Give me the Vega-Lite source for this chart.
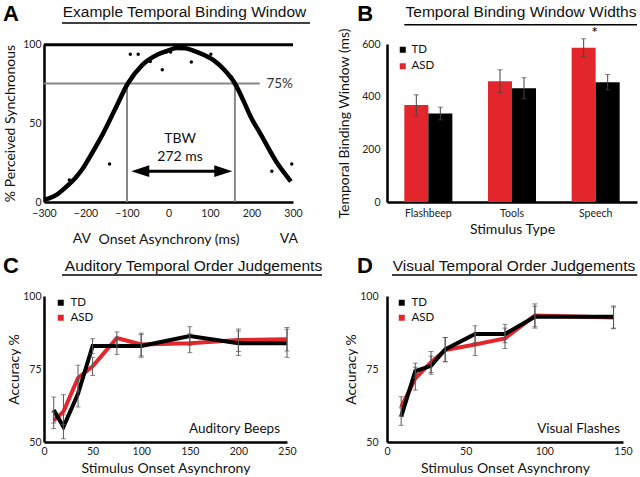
{
  "$schema": "https://vega.github.io/schema/vega-lite/v6.json",
  "padding": {"left": 2, "top": 2, "right": 0, "bottom": 0},
  "background": "white",
  "columns": 2,
  "spacing": {"row": 94, "column": 94},
  "bounds": "flush",
  "resolve": {"scale": {"color": "independent"}, "legend": {"color": "independent"}},
  "datasets": {
    "curve": [
      {"x": -300, "y": 1.5}, {"x": -290, "y": 2.2}, {"x": -270, "y": 4.5}, {"x": -247, "y": 9.5}, {"x": -225, "y": 15},
      {"x": -207, "y": 21}, {"x": -187, "y": 29.7}, {"x": -163, "y": 40.7}, {"x": -130, "y": 58}, {"x": -98, "y": 75},
      {"x": -64, "y": 86.5}, {"x": -25, "y": 93.5}, {"x": 0, "y": 96}, {"x": 20, "y": 97.5}, {"x": 40, "y": 97.3},
      {"x": 63, "y": 95.5}, {"x": 90, "y": 92.5}, {"x": 110, "y": 89.5}, {"x": 135, "y": 83.5}, {"x": 160, "y": 75},
      {"x": 180, "y": 64.5}, {"x": 198, "y": 54}, {"x": 222, "y": 43}, {"x": 261, "y": 25}, {"x": 289, "y": 15}, {"x": 295, "y": 13}
    ],
    "pts": [
      {"x": -239, "y": 14}, {"x": -190, "y": 29}, {"x": -142, "y": 24}, {"x": -92, "y": 93.5}, {"x": -73, "y": 93.5},
      {"x": -44, "y": 89}, {"x": -15, "y": 83.7}, {"x": -5, "y": 95}, {"x": 5, "y": 95}, {"x": 14, "y": 99}, {"x": 24, "y": 99},
      {"x": 55, "y": 88.6}, {"x": 102, "y": 93.5}, {"x": 152, "y": 79}, {"x": 199, "y": 54}, {"x": 249, "y": 19.5}, {"x": 297, "y": 24}
    ],
    "tbw": [{"bound": -100}, {"bound": 160}],
    "bars": [
      {"stimulus": "Flashbeep", "group": "ASD", "tbw": 368, "lo": 328, "hi": 407},
      {"stimulus": "Flashbeep", "group": "TD", "tbw": 336, "lo": 312, "hi": 360},
      {"stimulus": "Tools", "group": "ASD", "tbw": 459, "lo": 416, "hi": 502},
      {"stimulus": "Tools", "group": "TD", "tbw": 432, "lo": 392, "hi": 472},
      {"stimulus": "Speech", "group": "ASD", "tbw": 586, "lo": 552, "hi": 620},
      {"stimulus": "Speech", "group": "TD", "tbw": 455, "lo": 426, "hi": 484}
    ],
    "aud": [
      {"soa": 10, "group": "ASD", "acc": 57.4, "lo": 54.6, "hi": 60.2},
      {"soa": 20, "group": "ASD", "acc": 60.4, "lo": 56, "hi": 66.2},
      {"soa": 35, "group": "ASD", "acc": 71.9, "lo": 67.5, "hi": 76.3},
      {"soa": 50, "group": "ASD", "acc": 75.9, "lo": 72.8, "hi": 79},
      {"soa": 75, "group": "ASD", "acc": 85.6, "lo": 83.5, "hi": 87.7},
      {"soa": 100, "group": "ASD", "acc": 83.4, "lo": 79.5, "hi": 87.3},
      {"soa": 150, "group": "ASD", "acc": 83.8, "lo": 80.6, "hi": 87},
      {"soa": 200, "group": "ASD", "acc": 84.9, "lo": 81, "hi": 88.7},
      {"soa": 250, "group": "ASD", "acc": 85.2, "lo": 81.2, "hi": 89.2},
      {"soa": 10, "group": "TD", "acc": 61, "lo": 56.5, "hi": 65.4},
      {"soa": 20, "group": "TD", "acc": 55.2, "lo": 51.1, "hi": 59.3},
      {"soa": 35, "group": "TD", "acc": 66.5, "lo": 62, "hi": 71},
      {"soa": 50, "group": "TD", "acc": 82.9, "lo": 80.2, "hi": 85.4},
      {"soa": 75, "group": "TD", "acc": 82.9, "lo": 80, "hi": 85.6},
      {"soa": 100, "group": "TD", "acc": 82.9, "lo": 79, "hi": 86.8},
      {"soa": 150, "group": "TD", "acc": 86.3, "lo": 83.1, "hi": 89.5},
      {"soa": 200, "group": "TD", "acc": 83.8, "lo": 79.6, "hi": 88},
      {"soa": 250, "group": "TD", "acc": 83.8, "lo": 79, "hi": 88.6}
    ],
    "vis": [
      {"soa": 9, "group": "ASD", "acc": 61.9, "lo": 58.8, "hi": 65.5},
      {"soa": 18, "group": "ASD", "acc": 71.8, "lo": 67.8, "hi": 75.6},
      {"soa": 28, "group": "ASD", "acc": 77.3, "lo": 73.8, "hi": 81},
      {"soa": 37, "group": "ASD", "acc": 81.5, "lo": 77.5, "hi": 85.8},
      {"soa": 56, "group": "ASD", "acc": 83.4, "lo": 79.6, "hi": 87.2},
      {"soa": 75, "group": "ASD", "acc": 85.5, "lo": 82, "hi": 89},
      {"soa": 94, "group": "ASD", "acc": 93.3, "lo": 89.5, "hi": 96.5},
      {"soa": 144, "group": "ASD", "acc": 92.6, "lo": 88.8, "hi": 96.2},
      {"soa": 9, "group": "TD", "acc": 58.7, "lo": 55.7, "hi": 61.7},
      {"soa": 18, "group": "TD", "acc": 74.3, "lo": 72, "hi": 77},
      {"soa": 28, "group": "TD", "acc": 76.1, "lo": 73.2, "hi": 79.4},
      {"soa": 37, "group": "TD", "acc": 81.7, "lo": 77.5, "hi": 85.8},
      {"soa": 56, "group": "TD", "acc": 87, "lo": 84, "hi": 89.8},
      {"soa": 75, "group": "TD", "acc": 87, "lo": 84, "hi": 90.3},
      {"soa": 94, "group": "TD", "acc": 92.9, "lo": 89, "hi": 97.3},
      {"soa": 144, "group": "TD", "acc": 92.9, "lo": 89, "hi": 96.6}
    ]
  },
  "concat": [
    {
      "width": 249, "height": 158,
      "title": {"text": "Example Temporal Binding Window", "dx": 16, "offset": -17.5},
      "layer": [
        {
          "data": {"name": "tbw"},
          "mark": {"type": "rule", "color": "#878787", "strokeWidth": 2},
          "encoding": {
            "x": {"field": "bound", "type": "quantitative", "scale": {"domain": [-300, 300], "nice": false},
              "axis": {"values": [-300, -200, -100, 0, 100, 200, 300], "title": "Onset Asynchrony (ms)", "labelPadding": 6, "titlePadding": 14}},
            "y": {"datum": 0, "type": "quantitative", "scale": {"domain": [0, 100], "nice": false},
              "axis": {"values": [0, 25, 50, 75, 100], "title": "% Perceived Synchronous", "labelPadding": 3, "titlePadding": 5}},
            "y2": {"datum": 75}
          }
        },
        {
          "data": {"values": [{}]},
          "mark": {"type": "rule", "color": "#878787", "strokeWidth": 2},
          "encoding": {"x": {"datum": -300}, "x2": {"datum": 220}, "y": {"datum": 75}}
        },
        {
          "data": {"values": [{}]},
          "mark": {"type": "rule", "color": "#000", "strokeWidth": 3},
          "encoding": {"x": {"datum": -300}, "x2": {"datum": 300}, "y": {"datum": 99.5}}
        },
        {
          "data": {"name": "curve"},
          "mark": {"type": "line", "color": "#000", "strokeWidth": 4.5, "interpolate": "monotone"},
          "encoding": {"x": {"field": "x", "type": "quantitative"}, "y": {"field": "y", "type": "quantitative"}}
        },
        {
          "data": {"name": "pts"},
          "mark": {"type": "circle", "color": "#000", "size": 12, "opacity": 1},
          "encoding": {"x": {"field": "x", "type": "quantitative"}, "y": {"field": "y", "type": "quantitative"}}
        },
        {
          "data": {"values": [{}]},
          "mark": {"type": "rule", "color": "#000", "strokeWidth": 3},
          "encoding": {"x": {"datum": -75}, "x2": {"datum": 140}, "y": {"datum": 19.5}}
        },
        {
          "data": {"values": [{}]},
          "mark": {"type": "point", "shape": "M-1,0L1,-0.65L1,0.65Z", "filled": true, "color": "#000", "size": 324, "opacity": 1},
          "encoding": {"x": {"datum": -68}, "y": {"datum": 19.5}}
        },
        {
          "data": {"values": [{}]},
          "mark": {"type": "point", "shape": "M1,0L-1,-0.65L-1,0.65Z", "filled": true, "color": "#000", "size": 324, "opacity": 1},
          "encoding": {"x": {"datum": 132}, "y": {"datum": 19.5}}
        },
        {
          "data": {"values": [{}]},
          "mark": {"type": "text", "text": "TBW", "fontSize": 14, "font": "Lato", "color": "#111", "baseline": "middle"},
          "encoding": {"x": {"datum": 28}, "y": {"datum": 40}}
        },
        {
          "data": {"values": [{}]},
          "mark": {"type": "text", "text": "272 ms", "fontSize": 14, "font": "Lato", "color": "#111", "baseline": "middle"},
          "encoding": {"x": {"datum": 28}, "y": {"datum": 28.5}}
        },
        {
          "data": {"values": [{}]},
          "mark": {"type": "text", "text": "75%", "fontSize": 13.5, "font": "Lato", "color": "#333", "baseline": "middle", "align": "left"},
          "encoding": {"x": {"datum": 236}, "y": {"datum": 75}}
        },
        {
          "data": {"values": [{}]},
          "mark": {"type": "text", "text": "AV", "fontSize": 14, "font": "Lato", "color": "#111", "baseline": "middle"},
          "encoding": {"x": {"datum": -209}, "y": {"datum": -23.4}}
        },
        {
          "data": {"values": [{}]},
          "mark": {"type": "text", "text": "VA", "fontSize": 14, "font": "Lato", "color": "#111", "baseline": "middle"},
          "encoding": {"x": {"datum": 290}, "y": {"datum": -23.4}}
        },
        {
          "data": {"values": [{}]},
          "mark": {"type": "text", "text": "A", "fontSize": 22, "font": "Liberation Sans", "fontWeight": "bold", "color": "#000", "baseline": "top", "align": "left"},
          "encoding": {"x": {"datum": -398.8}, "y": {"datum": 125.3}}
        },
        {
          "data": {"values": [{}]},
          "mark": {"type": "rule", "color": "#000", "strokeWidth": 1.5},
          "encoding": {"x": {"datum": -256.6}, "x2": {"datum": 341}, "y": {"datum": 113.3}}
        }
      ]
    },
    {
      "width": 250, "height": 158,
      "title": {"text": "Temporal Binding Window Widths", "dx": 9, "offset": -17.3},
      "data": {"name": "bars"},
      "layer": [
        {
          "mark": {"type": "bar"},
          "encoding": {
            "x": {"field": "stimulus", "type": "nominal", "sort": ["Flashbeep", "Tools", "Speech"],
              "scale": {"paddingInner": 0.426, "paddingOuter": 0.207},
              "axis": {"labelAngle": 0, "title": "Stimulus Type", "labelPadding": 6, "titlePadding": 4, "domain": true}},
            "xOffset": {"field": "group", "type": "nominal", "sort": ["ASD", "TD"], "scale": {"paddingInner": 0, "paddingOuter": 0}},
            "y": {"field": "tbw", "type": "quantitative", "scale": {"domain": [0, 600], "nice": false},
              "axis": {"values": [0, 200, 400, 600], "title": "Temporal Binding Window (ms)", "labelPadding": 7, "titlePadding": 10}},
            "color": {"field": "group", "type": "nominal", "scale": {"domain": ["TD", "ASD"], "range": ["#000000", "#e3262b"]},
              "legend": {"title": null, "orient": "none", "legendX": 10, "legendY": 0, "padding": 0, "symbolType": "square", "symbolSize": 36, "labelFontSize": 11.5, "labelOffset": 3, "rowPadding": 3.5, "symbolStrokeWidth": 0}}
          }
        },
        {
          "mark": {"type": "rule", "color": "#444", "strokeWidth": 1},
          "encoding": {
            "x": {"field": "stimulus", "type": "nominal", "sort": ["Flashbeep", "Tools", "Speech"]},
            "xOffset": {"field": "group", "type": "nominal", "sort": ["ASD", "TD"]},
            "y": {"field": "lo", "type": "quantitative"}, "y2": {"field": "hi"}
          }
        },
        {
          "mark": {"type": "tick", "orient": "horizontal", "color": "#444", "size": 5, "thickness": 1},
          "encoding": {
            "x": {"field": "stimulus", "type": "nominal", "sort": ["Flashbeep", "Tools", "Speech"]},
            "xOffset": {"field": "group", "type": "nominal", "sort": ["ASD", "TD"]},
            "y": {"field": "hi", "type": "quantitative"}
          }
        },
        {
          "mark": {"type": "tick", "orient": "horizontal", "color": "#444", "size": 5, "thickness": 1},
          "encoding": {
            "x": {"field": "stimulus", "type": "nominal", "sort": ["Flashbeep", "Tools", "Speech"]},
            "xOffset": {"field": "group", "type": "nominal", "sort": ["ASD", "TD"]},
            "y": {"field": "lo", "type": "quantitative"}
          }
        },
        {
          "transform": [{"filter": "datum.stimulus === 'Speech' && datum.group === 'ASD'"}],
          "mark": {"type": "text", "text": "*", "fontSize": 16, "font": "Lato", "color": "#000", "baseline": "middle", "dx": 11},
          "encoding": {
            "x": {"field": "stimulus", "type": "nominal", "sort": ["Flashbeep", "Tools", "Speech"]},
            "xOffset": {"field": "group", "type": "nominal", "sort": ["ASD", "TD"]},
            "y": {"datum": 640, "type": "quantitative"}
          }
        },
        {
          "data": {"values": [{}]},
          "mark": {"type": "text", "text": "B", "fontSize": 22, "font": "Liberation Sans", "fontWeight": "bold", "color": "#000", "baseline": "top", "align": "left", "dx": -47},
          "encoding": {"x": {"datum": "Flashbeep", "type": "nominal", "bandPosition": 0}, "y": {"datum": 752, "type": "quantitative"}}
        },
        {
          "data": {"values": [{}]},
          "mark": {"type": "rule", "color": "#000", "strokeWidth": 1.5},
          "encoding": {"x": {"datum": "Flashbeep", "type": "nominal", "bandPosition": 0}, "x2": {"value": "width"}, "y": {"datum": 673, "type": "quantitative"}}
        }
      ]
    },
    {
      "width": 243, "height": 146,
      "title": {"text": "Auditory Temporal Order Judgements", "dx": 28, "offset": -19.7},
      "layer": [
        {
          "data": {"name": "aud"},
          "mark": {"type": "line", "strokeWidth": 4},
          "encoding": {
            "x": {"field": "soa", "type": "quantitative", "scale": {"domain": [0, 250], "nice": false},
              "axis": {"values": [0, 50, 100, 150, 200, 250], "title": "Stimulus Onset Asynchrony", "labelPadding": 4, "titlePadding": 5}},
            "y": {"field": "acc", "type": "quantitative", "scale": {"domain": [50, 100], "nice": false, "zero": false},
              "axis": {"values": [50, 75, 100], "title": "Accuracy %", "labelPadding": 3, "titlePadding": 1}},
            "color": {"field": "group", "type": "nominal", "sort": ["ASD", "TD"], "scale": {"domain": ["TD", "ASD"], "range": ["#000000", "#e3262b"]},
              "legend": {"title": null, "orient": "none", "legendX": 11, "legendY": 1, "padding": 0, "symbolType": "square", "symbolSize": 4, "symbolStrokeWidth": 4, "labelFontSize": 11.5, "labelOffset": 4, "rowPadding": -22}}
          }
        },
        {
          "data": {"name": "aud"},
          "mark": {"type": "rule", "color": "#555", "strokeWidth": 1},
          "encoding": {"x": {"field": "soa", "type": "quantitative"}, "y": {"field": "lo", "type": "quantitative"}, "y2": {"field": "hi"}}
        },
        {
          "data": {"name": "aud"},
          "mark": {"type": "tick", "orient": "horizontal", "color": "#555", "size": 5, "thickness": 1},
          "encoding": {"x": {"field": "soa", "type": "quantitative"}, "y": {"field": "lo", "type": "quantitative"}}
        },
        {
          "data": {"name": "aud"},
          "mark": {"type": "tick", "orient": "horizontal", "color": "#555", "size": 5, "thickness": 1},
          "encoding": {"x": {"field": "soa", "type": "quantitative"}, "y": {"field": "hi", "type": "quantitative"}}
        },
        {
          "data": {"values": [{}]},
          "mark": {"type": "text", "text": "Auditory Beeps", "fontSize": 13.5, "font": "Lato", "color": "#111", "baseline": "middle", "align": "right"},
          "encoding": {"x": {"datum": 242.8}, "y": {"datum": 54.6}}
        },
        {
          "data": {"values": [{}]},
          "mark": {"type": "text", "text": "C", "fontSize": 22, "font": "Liberation Sans", "fontWeight": "bold", "color": "#000", "baseline": "top", "align": "left"},
          "encoding": {"x": {"datum": -42.2}, "y": {"datum": 113.7}}
        },
        {
          "data": {"values": [{}]},
          "mark": {"type": "rule", "color": "#000", "strokeWidth": 1.5},
          "encoding": {"x": {"datum": 18.5}, "x2": {"datum": 286}, "y": {"datum": 107.2}}
        }
      ]
    },
    {
      "width": 236, "height": 146,
      "title": {"text": "Visual Temporal Order Judgements", "dx": 9, "offset": -19.7},
      "layer": [
        {
          "data": {"name": "vis"},
          "mark": {"type": "line", "strokeWidth": 4},
          "encoding": {
            "x": {"field": "soa", "type": "quantitative", "scale": {"domain": [0, 150], "nice": false},
              "axis": {"values": [0, 50, 100, 150], "title": "Stimulus Onset Asynchrony", "labelPadding": 4, "titlePadding": 5}},
            "y": {"field": "acc", "type": "quantitative", "scale": {"domain": [50, 100], "nice": false, "zero": false},
              "axis": {"values": [50, 75, 100], "title": "Accuracy %", "labelPadding": 9, "titlePadding": 1}},
            "color": {"field": "group", "type": "nominal", "sort": ["ASD", "TD"], "scale": {"domain": ["TD", "ASD"], "range": ["#000000", "#e3262b"]},
              "legend": {"title": null, "orient": "none", "legendX": 9, "legendY": 1, "padding": 0, "symbolType": "square", "symbolSize": 4, "symbolStrokeWidth": 4, "labelFontSize": 11.5, "labelOffset": 4, "rowPadding": -22}}
          }
        },
        {
          "data": {"name": "vis"},
          "mark": {"type": "rule", "color": "#555", "strokeWidth": 1},
          "encoding": {"x": {"field": "soa", "type": "quantitative"}, "y": {"field": "lo", "type": "quantitative"}, "y2": {"field": "hi"}}
        },
        {
          "data": {"name": "vis"},
          "mark": {"type": "tick", "orient": "horizontal", "color": "#555", "size": 5, "thickness": 1},
          "encoding": {"x": {"field": "soa", "type": "quantitative"}, "y": {"field": "lo", "type": "quantitative"}}
        },
        {
          "data": {"name": "vis"},
          "mark": {"type": "tick", "orient": "horizontal", "color": "#555", "size": 5, "thickness": 1},
          "encoding": {"x": {"field": "soa", "type": "quantitative"}, "y": {"field": "hi", "type": "quantitative"}}
        },
        {
          "data": {"values": [{}]},
          "mark": {"type": "text", "text": "Visual Flashes", "fontSize": 13.5, "font": "Lato", "color": "#111", "baseline": "middle", "align": "right"},
          "encoding": {"x": {"datum": 148.1}, "y": {"datum": 54.6}}
        },
        {
          "data": {"values": [{}]},
          "mark": {"type": "text", "text": "D", "fontSize": 22, "font": "Liberation Sans", "fontWeight": "bold", "color": "#000", "baseline": "top", "align": "left"},
          "encoding": {"x": {"datum": -19.1}, "y": {"datum": 113.7}}
        },
        {
          "data": {"values": [{}]},
          "mark": {"type": "rule", "color": "#000", "strokeWidth": 1.5},
          "encoding": {"x": {"datum": 3.2}, "x2": {"datum": 159}, "y": {"datum": 107.2}}
        }
      ]
    }
  ],
  "config": {
    "font": "Lato",
    "view": {"stroke": null},
    "axis": {"grid": false, "ticks": false, "labelFlush": false, "domainColor": "#000", "domainWidth": 2.5, "labelFont": "Lato", "labelFontSize": 10.5, "labelColor": "#222", "titleFont": "Lato", "titleFontSize": 14, "titleFontWeight": "normal", "titleColor": "#111"},
    "title": {"font": "Liberation Sans", "fontSize": 15.5, "fontWeight": "normal", "color": "#111", "frame": "group", "anchor": "middle", "baseline": "alphabetic"},
    "legend": {"labelFont": "Lato", "labelColor": "#111"}
  }
}
